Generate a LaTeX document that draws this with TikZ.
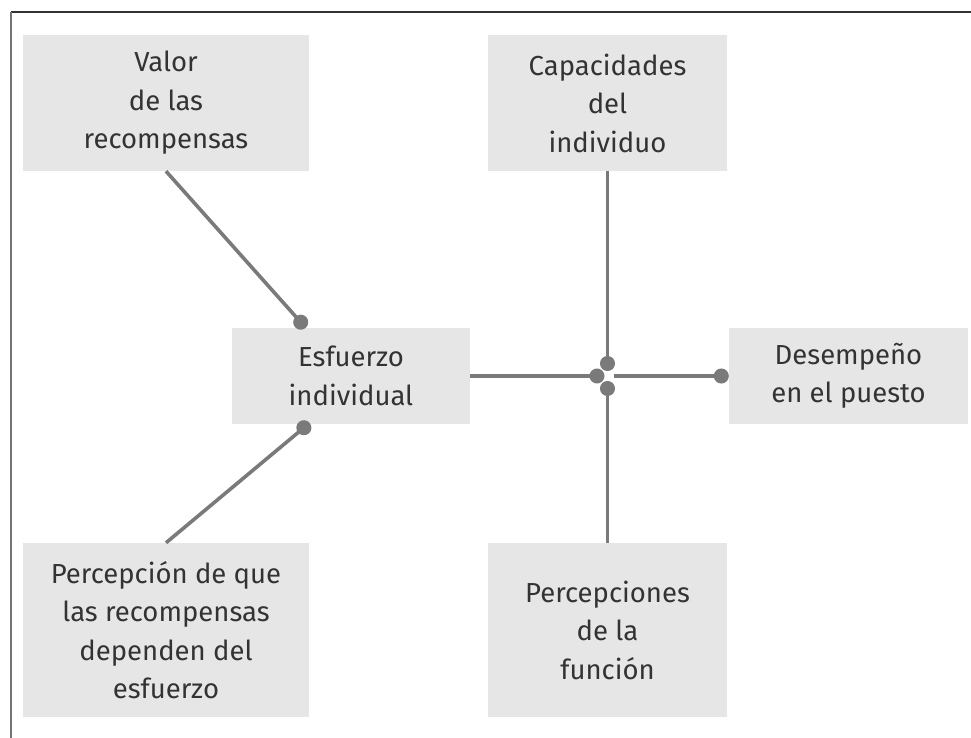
\documentclass[tikz,border=0pt]{standalone}
\usepackage{fontspec}
\setmainfont{Fira Sans}
\usetikzlibrary{arrows.meta,positioning,calc}
\definecolor{cajagris}{HTML}{E6E6E6}
\definecolor{lineagris}{HTML}{7A7A7A}
\definecolor{textogris}{HTML}{333333}

\begin{document}
\begin{tikzpicture}[x=1pt, y=-1pt, > = {Circle[length=15pt]}, font=\fontsize{27.5}{38.5}\selectfont]
    \tikzstyle{caja}=[fill=cajagris, text=textogris, align=center, inner sep=0pt]
    \tikzstyle{enlace}=[->, line width=3.6pt, lineagris]

    \useasboundingbox (0,0) rectangle (971,738);
    % Marco
    \draw[line width=1.5pt, black!80] (11,12) -- (971,12);
    \draw[line width=2pt, black!55] (11,12) -- (11,738);

    % Cajas
    \node[caja, minimum width=286, minimum height=136] (valor) at (166,103) {Valor\\de las\\recompensas};
    \node[caja, minimum width=239, minimum height=136] (capac) at (607.5,103) {Capacidades\\del\\individuo};
    \node[caja, minimum width=238, minimum height=96] (esfuerzo) at (351,376) {Esfuerzo\\individual};
    \node[caja, minimum width=239, minimum height=96] (desemp) at (848.5,376) {Desempeño\\en el puesto};
    \node[caja, minimum width=286, minimum height=174] (percep) at (166,630) {Percepción de que\\las recompensas\\dependen del\\esfuerzo};
    \node[caja, minimum width=239, minimum height=174] (funcion) at (607.5,630) {Percepciones\\de la\\función};
    \coordinate (jn) at (607.5,376);

    % Conectores
    \draw[enlace] (valor.south) -- ($(esfuerzo.north west)!0.31!(esfuerzo.north east)$);
    \draw[enlace, shorten >=-2pt] (percep.north) -- ($(esfuerzo.south west)!0.32!(esfuerzo.south east)$);
    \draw[enlace, shorten >=3pt] (esfuerzo.east) -- (jn);
    \draw[enlace, shorten >=5pt] (capac.south) -- (jn);
    \draw[enlace, shorten >=5pt] (funcion.north) -- (jn);
    \draw[enlace, shorten <=6pt] (jn) -- (desemp.west);
\end{tikzpicture}
\end{document}
